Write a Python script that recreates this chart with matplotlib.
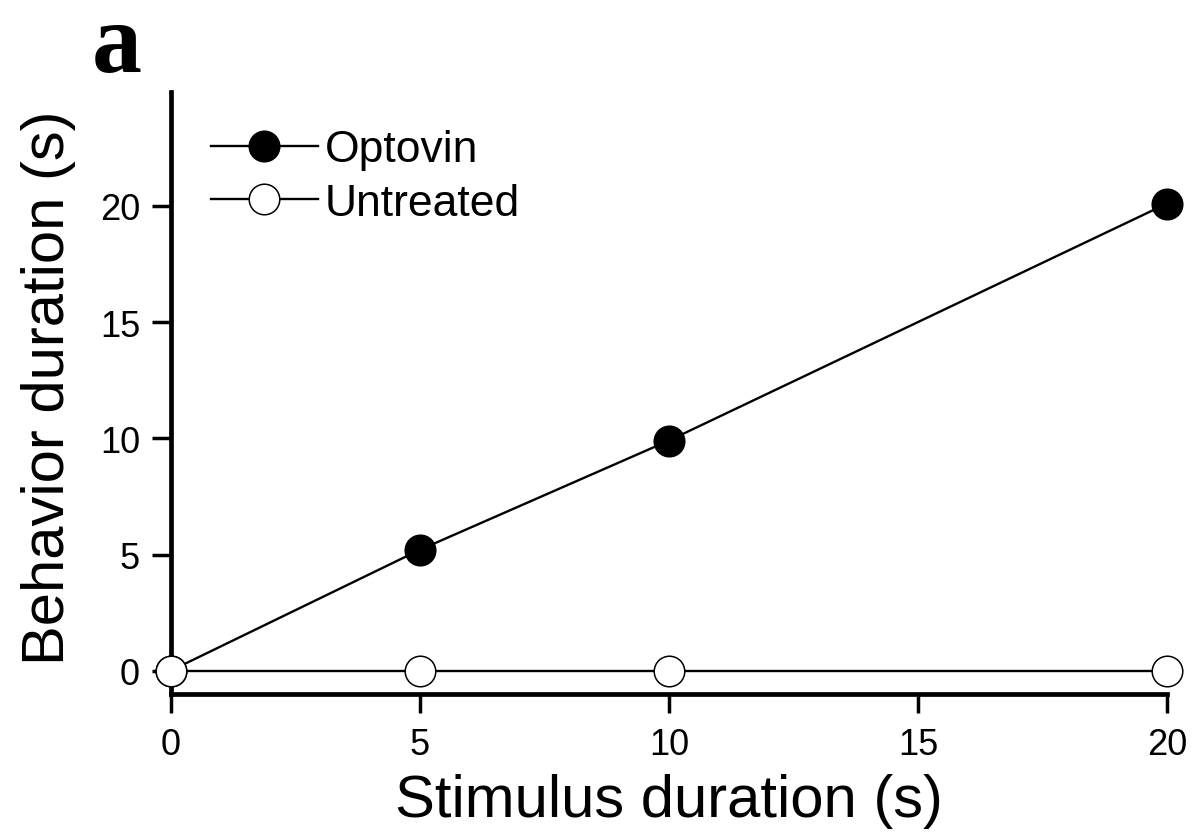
import matplotlib
matplotlib.use("Agg")
import matplotlib.pyplot as plt

# stimulus durations (s) and measured behaviour durations (s)
stimulus = [0, 5, 10, 20]
optovin = [0, 5.2, 9.9, 20.1]
untreated = [0, 0, 0, 0]

x_ticks = [0, 5, 10, 15, 20]
y_ticks = [0, 5, 10, 15, 20]

plt.rcParams['font.family'] = ['Liberation Sans', 'DejaVu Sans']

fig = plt.figure(figsize=(11.95, 8.37), dpi=100)
ax = fig.add_axes([0.1428, 0.1697, 0.8338, 0.7192])

ax.plot(stimulus, optovin, color='black', linewidth=1.7, marker='o',
        markersize=22, markerfacecolor='black', markeredgecolor='black',
        markeredgewidth=1.1, clip_on=False, zorder=3, label='Optovin')
ax.plot(stimulus, untreated, color='black', linewidth=1.7, marker='o',
        markersize=22, markerfacecolor='white', markeredgecolor='black',
        markeredgewidth=1.1, clip_on=False, zorder=4, label='Untreated')

ax.set_xlim(0, 20)
ax.set_ylim(-1, 24.9)
ax.set_xticks(x_ticks)
ax.set_yticks(y_ticks)

for side in ['top', 'right']:
    ax.spines[side].set_visible(False)
for side in ['left', 'bottom']:
    ax.spines[side].set_linewidth(3.4)
ax.spines['bottom'].set_bounds(0, 20)

ax.tick_params(axis='both', direction='out', length=14, width=2.5,
               labelsize=26)
ax.tick_params(axis='x', pad=10)
ax.tick_params(axis='y', pad=8)

ax.set_xlabel('Stimulus duration (s)', fontsize=43)
ax.set_ylabel('Behavior duration (s)', fontsize=43)
ax.xaxis.set_label_coords(0.5, -0.131)
ax.yaxis.set_label_coords(-0.095, 0.51)

ax.legend(loc='upper left', bbox_to_anchor=(0.040, 0.938), frameon=False,
          fontsize=32, handlelength=2.41, handletextpad=0.16,
          labelspacing=0.28, borderpad=0, borderaxespad=0)

# panel letter
fig.text(92 / 1195, 1 - 72 / 837, 'a', fontsize=72, fontweight='bold',
         family='Liberation Serif', va='baseline', ha='left')

fig.savefig('out.png', dpi=100)
